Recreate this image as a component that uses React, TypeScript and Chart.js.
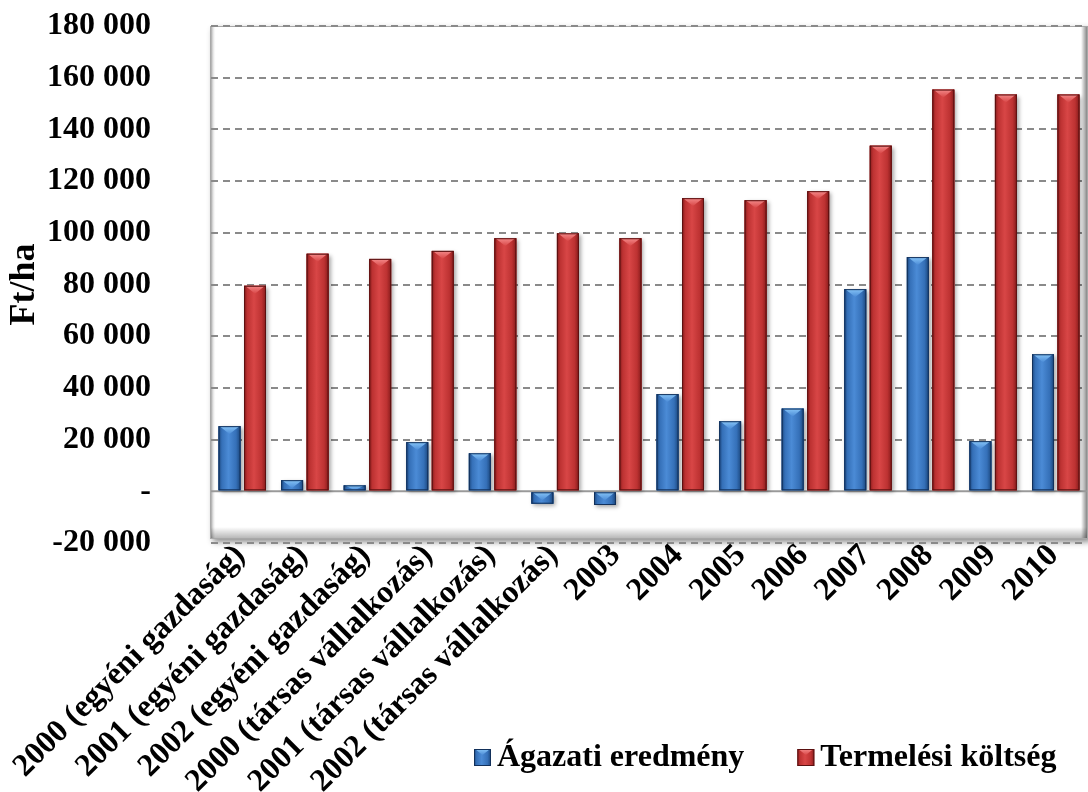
import React, { useEffect, useRef } from 'react';
import { Chart, registerables } from 'chart.js';

Chart.register(...registerables);

const categories = [
  '2000 (egyéni gazdaság)',
  '2001 (egyéni gazdaság)',
  '2002 (egyéni gazdaság)',
  '2000 (társas vállalkozás)',
  '2001 (társas vállalkozás)',
  '2002 (társas vállalkozás)',
  '2003', '2004', '2005', '2006', '2007', '2008', '2009', '2010',
];
const agazatiEredmeny = [25200, 4300, 2300, 19000, 14700, -4800, -5300, 37600, 27100, 32000, 78200, 90600, 19400, 53000];
const termelesiKoltseg = [79500, 91900, 89900, 93000, 97900, 99800, 97900, 113400, 112600, 116100, 133700, 155400, 153500, 153500];
const seriesNames = ['Ágazati eredmény', 'Termelési költség'];
const yMin = -20000;
const yMax = 180000;
const yStep = 20000;
const yTitle = 'Ft/ha';

const FONT = '"Liberation Serif", "Times New Roman", serif';

type Pal = { dark: string; mid: string; light: string; bevel: string; outline: string };
const palettes: Pal[] = [
  { dark: '#1b467c', mid: '#3570b8', light: '#4b8bd6', bevel: '#86c4f7', outline: '#12305a' },
  { dark: '#861b1b', mid: '#bd3232', light: '#d84646', bevel: '#f48a8a', outline: '#5a1010' },
];

function fmt(v: number): string {
  if (v === 0) return '-';
  const s = String(Math.abs(v)).replace(/\B(?=(\d{3})+(?!\d))/g, ' ');
  return (v < 0 ? '-' : '') + s;
}

function drawBar3d(ctx: CanvasRenderingContext2D, l: number, t: number, w: number, h: number, p: Pal) {
  if (h <= 0 || w <= 0) return;
  const g = ctx.createLinearGradient(l, 0, l + w, 0);
  g.addColorStop(0, p.dark);
  g.addColorStop(0.15, p.mid);
  g.addColorStop(0.45, p.light);
  g.addColorStop(0.8, p.mid);
  g.addColorStop(1, p.dark);
  ctx.fillStyle = g;
  ctx.fillRect(l, t, w, h);
  const d = Math.min(w * 0.36, h);
  const gb = ctx.createLinearGradient(0, t, 0, t + d);
  gb.addColorStop(0, p.bevel);
  gb.addColorStop(1, p.light);
  ctx.fillStyle = gb;
  ctx.beginPath();
  ctx.moveTo(l + 1, t);
  ctx.lineTo(l + w - 1, t);
  ctx.lineTo(l + w / 2, t + d);
  ctx.closePath();
  ctx.fill();
  ctx.strokeStyle = p.outline;
  ctx.lineWidth = 1;
  ctx.strokeRect(l + 0.5, t + 0.5, w - 1, Math.max(h - 1, 0.5));
}

const framePlugin = {
  id: 'frame3d',
  beforeDraw(chart: any) {
    const { ctx, chartArea: a } = chart;
    const L = a.left - 1, T = a.top, R = a.right + 1, B = a.bottom - 4;
    ctx.save();
    ctx.shadowColor = 'rgba(0,0,0,0.45)';
    ctx.shadowBlur = 6;
    ctx.shadowOffsetX = 3;
    ctx.shadowOffsetY = 3;
    ctx.fillStyle = '#ffffff';
    ctx.fillRect(L, T, R - L, B - T);
    ctx.restore();
    ctx.save();
    let g = ctx.createLinearGradient(L, 0, L + 6, 0);
    g.addColorStop(0, 'rgba(120,120,120,0.95)');
    g.addColorStop(1, 'rgba(255,255,255,0)');
    ctx.fillStyle = g;
    ctx.fillRect(L, T, 6, B - T);
    g = ctx.createLinearGradient(0, B - 12, 0, B);
    g.addColorStop(0, 'rgba(0,0,0,0)');
    g.addColorStop(1, 'rgba(0,0,0,0.3)');
    ctx.fillStyle = g;
    ctx.fillRect(L, B - 12, R - L, 12);
    g = ctx.createLinearGradient(R - 7, 0, R, 0);
    g.addColorStop(0, 'rgba(0,0,0,0)');
    g.addColorStop(1, 'rgba(0,0,0,0.55)');
    ctx.fillStyle = g;
    ctx.fillRect(R - 7, T, 7, B - T);
    ctx.strokeStyle = '#a8a8a8';
    ctx.lineWidth = 1;
    ctx.strokeRect(L + 0.5, T + 0.5, R - L - 1, B - T - 1);
    ctx.restore();
  },
};

const barPlugin = {
  id: 'bar3d',
  beforeDatasetsDraw(chart: any) {
    const ctx = chart.ctx;
    const a = chart.chartArea;
    const y0 = chart.scales.y.getPixelForValue(0);
    ctx.save();
    ctx.strokeStyle = '#9a9a9a';
    ctx.lineWidth = 2;
    ctx.beginPath();
    ctx.moveTo(a.left, y0);
    ctx.lineTo(a.right, y0);
    ctx.stroke();
    chart.data.datasets.forEach((_ds: any, di: number) => {
      const meta = chart.getDatasetMeta(di);
      meta.data.forEach((el: any) => {
        const { x, y, base, width } = el.getProps(['x', 'y', 'base', 'width'], true);
        const l = x - width / 2, t = Math.min(y, base), h = Math.abs(base - y);
        ctx.shadowColor = 'rgba(0,0,0,0.35)';
        ctx.shadowBlur = 4;
        ctx.shadowOffsetX = 2;
        ctx.shadowOffsetY = 2;
        ctx.fillStyle = palettes[di].dark;
        ctx.fillRect(l, t, width, h);
      });
    });
    ctx.restore();
  },
  afterDatasetsDraw(chart: any) {
    const ctx = chart.ctx;
    ctx.save();
    chart.data.datasets.forEach((_ds: any, di: number) => {
      const meta = chart.getDatasetMeta(di);
      meta.data.forEach((el: any) => {
        const { x, y, base, width } = el.getProps(['x', 'y', 'base', 'width'], true);
        const l = x - width / 2, t = Math.min(y, base), h = Math.abs(base - y);
        drawBar3d(ctx, l, t, width, h, palettes[di]);
      });
    });
    ctx.restore();
  },
};

const legendPlugin = {
  id: 'legend3d',
  afterDraw(chart: any) {
    const ctx = chart.ctx;
    ctx.save();
    ctx.font = `bold 32px ${FONT}`;
    ctx.textBaseline = 'middle';
    ctx.textAlign = 'left';
    let x = 474;
    const sq = 17, sy = 749, ty = 758;
    chart.data.datasets.forEach((ds: any, di: number) => {
      drawBar3d(ctx, x, sy, sq, sq, palettes[di]);
      ctx.fillStyle = '#000';
      ctx.fillText(ds.label, x + 23, ty);
      x += 23 + ctx.measureText(ds.label).width + 53;
    });
    ctx.restore();
  },
};

export default function App() {
  const ref = useRef<HTMLCanvasElement | null>(null);
  useEffect(() => {
    if (!ref.current) return;
    const chart = new Chart(ref.current, {
      type: 'bar',
      data: {
        labels: categories,
        datasets: [
          { label: seriesNames[0], data: agazatiEredmeny, backgroundColor: palettes[0].mid },
          { label: seriesNames[1], data: termelesiKoltseg, backgroundColor: palettes[1].mid },
        ],
      },
      options: {
        animation: false,
        responsive: false,
        devicePixelRatio: 1,
        datasets: { bar: { categoryPercentage: 0.815, barPercentage: 0.86 } },
        layout: { padding: { top: 26, right: 1, left: 0, bottom: 0 } },
        plugins: { legend: { display: false }, tooltip: { enabled: false } },
        scales: {
          x: {
            grid: { display: false },
            border: { display: false },
            ticks: {
              autoSkip: false,
              minRotation: 45,
              maxRotation: 45,
              padding: -14,
              labelOffset: -2,
              color: '#000',
              font: { family: FONT, size: 32, weight: 'bold' },
            },
            afterFit: (s: any) => { s.height = 249; },
          },
          y: {
            min: yMin,
            max: yMax,
            ticks: {
              stepSize: yStep,
              padding: 60,
              color: '#000',
              font: { family: FONT, size: 32, weight: 'bold' },
              callback: (v: any) => fmt(Number(v)),
            },
            grid: {
              drawTicks: false,
              tickLength: 0,
              lineWidth: 2,
              color: (c: any) => (c.tick && c.tick.value === 0 ? 'rgba(0,0,0,0)' : '#8a8a8a'),
            },
            border: { display: false, dash: [7, 5] },
            title: {
              display: true,
              text: yTitle,
              color: '#000',
              padding: { top: 3, bottom: 0 },
              font: { family: FONT, size: 36, weight: 'bold' },
            },
            afterFit: (s: any) => {
              s.width = 211;
              s.paddingTop = 0;
              s.paddingBottom = 0;
            },
          },
        },
      },
      plugins: [framePlugin, barPlugin, legendPlugin],
    } as any);
    return () => chart.destroy();
  }, []);
  return (
    <div style={{ position: 'absolute', left: 0, top: 0, width: 1088, height: 792, background: '#fff' }}>
      <canvas ref={ref} width={1088} height={792} style={{ width: 1088, height: 792, display: 'block' }} />
    </div>
  );
}
